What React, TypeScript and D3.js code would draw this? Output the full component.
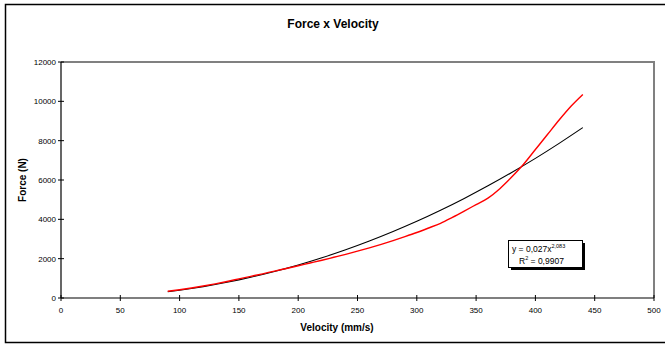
import React from 'react';
import * as d3 from 'd3';

// measured force (red) vs velocity
const velocity = [90, 100, 110, 120, 130, 140, 150, 160, 170, 180, 190, 200, 210, 220, 230, 240, 250, 260, 270, 280, 290, 300, 310, 320, 330, 340, 350, 360, 370, 380, 390, 400, 410, 420, 430, 440];
const force = [340, 420, 510, 610, 720, 840, 970, 1100, 1230, 1370, 1500, 1640, 1780, 1920, 2070, 2220, 2380, 2550, 2730, 2920, 3120, 3330, 3560, 3800, 4100, 4420, 4750, 5080, 5560, 6150, 6800, 7550, 8300, 9050, 9750, 10350];

// power trendline (black)
const trendVelocity = [90, 100, 110, 120, 130, 140, 150, 160, 170, 180, 190, 200, 220, 240, 260, 280, 300, 320, 340, 360, 380, 400, 420, 440];
const trendForce = [317, 396, 483, 579, 684, 798, 921, 1054, 1196, 1347, 1507, 1677, 2046, 2453, 2898, 3382, 3900, 4462, 5063, 5703, 6383, 7100, 7862, 8664];

const xTicks = [0, 50, 100, 150, 200, 250, 300, 350, 400, 450, 500];
const yTicks = [0, 2000, 4000, 6000, 8000, 10000, 12000];

const W = 665;
const H = 345;
const FONT = '"Liberation Sans", Arial, sans-serif';

export default function App() {
  const left = 61, right = 654, top = 62, bottom = 298;
  const x = d3.scaleLinear().domain([0, 500]).range([left, right]);
  const y = d3.scaleLinear().domain([0, 12000]).range([bottom, top]);

  const line = d3.line<[number, number]>()
    .x(d => x(d[0]))
    .y(d => y(d[1]))
    .curve(d3.curveMonotoneX);

  const redPts = velocity.map((v, i) => [v, force[i]] as [number, number]);
  const blackPts = trendVelocity.map((v, i) => [v, trendForce[i]] as [number, number]);

  return (
    <div style={{ position: 'fixed', left: 0, top: 0 }}>
      <svg width={W} height={H} style={{ display: 'block', fontFamily: FONT }}>
        <rect x={0} y={0} width={W} height={H} fill="#fff" />
        {/* outer frame */}
        <rect x={5.5} y={4.5} width={W + 10} height={338} fill="none" stroke="#000" strokeWidth={1.5} />

        <text x={333} y={28} textAnchor="middle" fontSize={12} fontWeight="bold">Force x Velocity</text>

        {/* plot frame top/right in gray */}
        <path d={`M${left},${top}H${right}V${bottom}`} fill="none" stroke="#808080" strokeWidth={2} />

        {/* lines */}
        <path d={line(blackPts) || ''} fill="none" stroke="#000" strokeWidth={1.1} />
        <path d={line(redPts) || ''} fill="none" stroke="#ff0000" strokeWidth={1.4} />

        {/* axes */}
        <line x1={left} x2={right} y1={bottom} y2={bottom} stroke="#000" strokeWidth={1.2} />
        <line x1={left} x2={left} y1={top} y2={bottom} stroke="#000" strokeWidth={1.2} />
        {yTicks.map(t => (
          <g key={'y' + t}>
            <line x1={left - 3} x2={left + 3} y1={y(t)} y2={y(t)} stroke="#000" />
            <text x={left - 5} y={y(t) + 3} textAnchor="end" fontSize={8}>{t}</text>
          </g>
        ))}
        {xTicks.map(t => (
          <g key={'x' + t}>
            <line x1={x(t)} x2={x(t)} y1={bottom - 3} y2={bottom + 3} stroke="#000" />
            <text x={x(t)} y={bottom + 15} textAnchor="middle" fontSize={8}>{t}</text>
          </g>
        ))}

        <text x={337} y={331} textAnchor="middle" fontSize={10} fontWeight="bold">Velocity (mm/s)</text>
        <text transform={`translate(26,${(top + bottom) / 2}) rotate(-90)`} textAnchor="middle" fontSize={10} fontWeight="bold">Force (N)</text>

        {/* equation box */}
        <rect x={511} y={243} width={74} height={27} fill="#000" />
        <rect x={508.5} y={240.5} width={74} height={27} fill="#fff" stroke="#000" strokeWidth={1} />
        <text x={512} y={252} fontSize={8.5}>
          y = 0,027x<tspan dy={-4} fontSize={5.5}>2,083</tspan>
        </text>
        <text x={519} y={264} fontSize={8.5}>
          R<tspan dy={-4} fontSize={5.5}>2</tspan><tspan dy={4}> = 0,9907</tspan>
        </text>
      </svg>
    </div>
  );
}
